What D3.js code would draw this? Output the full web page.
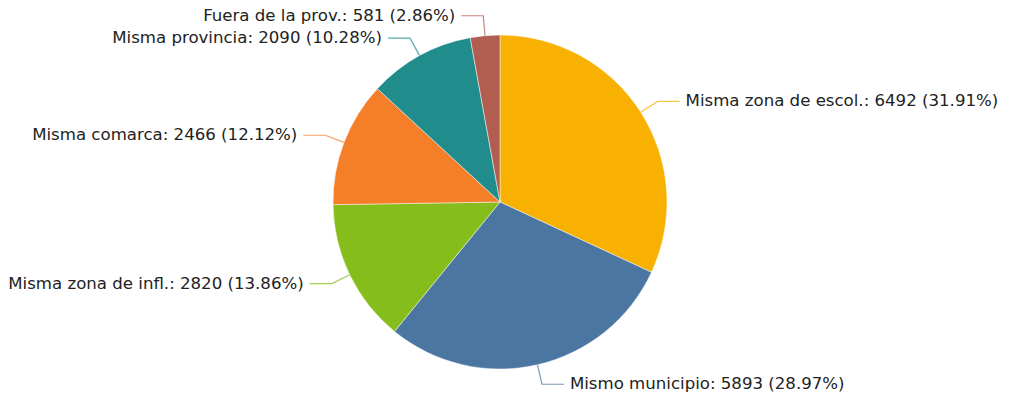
<!DOCTYPE html>
<html>
<head>
<meta charset="utf-8">
<script src="https://cdn.jsdelivr.net/npm/d3@7/dist/d3.min.js"></script>
<style>
  html, body { margin: 0; padding: 0; background: #fff; }
  svg { display: block; }
  text { font-family: "DejaVu Sans", sans-serif; font-size: 16.6px; fill: #222; }
</style>
</head>
<body>
<svg id="chart" width="1011" height="396"></svg>
<script>
// Origin of students: category names, counts and slice colours
const categories = [
  "Misma zona de escol.",
  "Mismo municipio",
  "Misma zona de infl.",
  "Misma comarca",
  "Misma provincia",
  "Fuera de la prov."
];
const counts = [6492, 5893, 2820, 2466, 2090, 581];
const colors = ["#f8b100", "#4a76a1", "#85bd1c", "#f57e29", "#218c8c", "#b15e51"];

const width = 1011, height = 396;
const cx = 500, cy = 202, radius = 167;
const elbowR = radius + 20;   // where the leader line bends
const legLen = 22;            // horizontal leg of the leader line
const textGap = 6;
const minGap = 19;            // minimum vertical spacing between labels

const total = d3.sum(counts);

// Percentages with two decimals that add up to exactly 100 (largest remainder)
function percents(values, digits) {
  const scale = Math.pow(10, digits);
  const sum = d3.sum(values);
  const raw = values.map(v => v / sum * 100 * scale);
  const out = raw.map(Math.floor);
  let left = 100 * scale - d3.sum(out);
  const order = raw.map((r, i) => i).sort((a, b) => (raw[b] - out[b]) - (raw[a] - out[a]));
  for (let k = 0; k < left; k++) out[order[k]] += 1;
  return out.map(v => v / scale);
}
const pcts = percents(counts, 2);

const data = categories.map((c, i) => ({ name: c, value: counts[i], pct: pcts[i], color: colors[i] }));

const svg = d3.select("#chart");
const g = svg.append("g").attr("transform", `translate(${cx},${cy})`);

const pie = d3.pie().value(d => d.value).sort(null);
const arc = d3.arc().innerRadius(0).outerRadius(radius);
const arcs = pie(data);

// Label anchor positions at mid-angle on the elbow circle
const labels = arcs.map(a => {
  const mid = (a.startAngle + a.endAngle) / 2;
  const x = Math.sin(mid) * elbowR, y = -Math.cos(mid) * elbowR;
  return { a, mid, right: x >= 0, x, y };
});

// Push labels apart vertically on each side, then put the elbow back on the circle
["left", "right"].forEach(side => {
  const group = labels.filter(l => (side === "right") === l.right).sort((p, q) => p.y - q.y);
  for (let i = 1; i < group.length; i++) {
    if (group[i].y - group[i - 1].y < minGap) group[i].y = group[i - 1].y + minGap;
  }
  group.forEach(l => {
    const dy = Math.max(-elbowR, Math.min(elbowR, l.y));
    const dx = Math.sqrt(elbowR * elbowR - dy * dy);
    l.x = l.right ? dx : -dx;
  });
});

// Leader lines (drawn under slices)
const lines = g.append("g");
labels.forEach(l => {
  const len = Math.hypot(l.x, l.y);
  const p0 = [l.x / len * (radius - 2), l.y / len * (radius - 2)];
  const p2 = [l.x + (l.right ? legLen : -legLen), l.y];
  lines.append("polyline")
    .attr("points", [p0, [l.x, l.y], p2].map(p => p.join(",")).join(" "))
    .attr("fill", "none")
    .attr("stroke", l.a.data.color)
    .attr("stroke-opacity", 0.75)
    .attr("stroke-width", 1.2);
});

// Slices
g.append("g").selectAll("path")
  .data(arcs)
  .join("path")
  .attr("d", arc)
  .attr("fill", d => d.data.color)
  .attr("stroke", "#fff")
  .attr("stroke-opacity", 0.6)
  .attr("stroke-width", 0.8);

// Label text
const fmt = d3.format(".2f");
g.append("g").selectAll("text")
  .data(labels)
  .join("text")
  .attr("x", l => l.x + (l.right ? legLen + textGap : -(legLen + textGap)))
  .attr("y", l => l.y)
  .attr("dy", "0.3em")
  .attr("text-anchor", l => l.right ? "start" : "end")
  .text(l => `${l.a.data.name}: ${l.a.data.value} (${fmt(l.a.data.pct)}%)`);
</script>
</body>
</html>
